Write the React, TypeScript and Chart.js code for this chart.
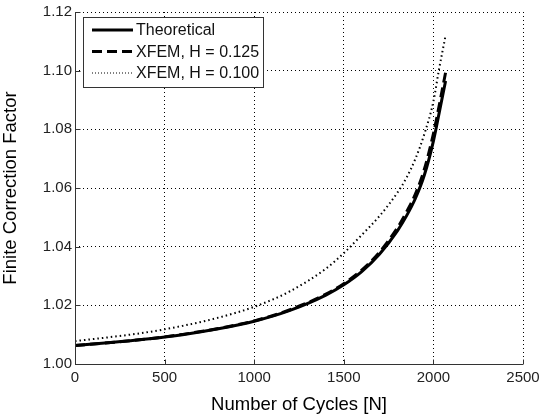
import React, { useEffect, useRef } from "react";
import { Chart, registerables } from "chart.js";

Chart.register(...registerables);

// Number of cycles [N] and finite correction factor values
const theoN = [0, 200, 400, 600, 800, 1000, 1200, 1400, 1500, 1600, 1700, 1800, 1850, 1900, 1950, 2000, 2040, 2068];
const theoF = [1.0063, 1.0073, 1.0085, 1.01, 1.012, 1.0146, 1.0183, 1.0235, 1.027, 1.0315, 1.0375, 1.0455, 1.0505, 1.0565, 1.0645, 1.076, 1.088, 1.0965];

const h125N = [0, 200, 400, 600, 800, 1000, 1200, 1400, 1500, 1600, 1700, 1800, 1850, 1900, 1950, 2000, 2040, 2070];
const h125F = [1.0063, 1.0073, 1.0085, 1.0101, 1.0121, 1.0147, 1.0185, 1.0238, 1.0274, 1.032, 1.0382, 1.0465, 1.0518, 1.058, 1.0665, 1.0785, 1.0905, 1.1];

const h100N = [0, 200, 400, 600, 800, 1000, 1200, 1400, 1500, 1600, 1700, 1800, 1850, 1900, 1950, 2000, 2030, 2068];
const h100F = [1.0078, 1.0092, 1.0108, 1.013, 1.0158, 1.0195, 1.0248, 1.0325, 1.0378, 1.044, 1.0505, 1.0585, 1.0635, 1.07, 1.0785, 1.0895, 1.1, 1.112];

const seriesLabels = ["Theoretical", "XFEM, H = 0.125", "XFEM, H = 0.100"];
const xTicks = [0, 500, 1000, 1500, 2000, 2500];
const yTicks = [1.0, 1.02, 1.04, 1.06, 1.08, 1.1, 1.12];

const FONT = "'Liberation Sans', Arial, sans-serif";

const toPts = (xs: number[], ys: number[]) => xs.map((x, i) => ({ x, y: ys[i] }));

const styles = [
  { width: 3, dash: [] as number[] },
  { width: 3, dash: [10, 5] },
  { width: 2, dash: [1.5, 3] },
];

const framePlugin = {
  id: "frame",
  afterDraw(chart: any) {
    const { ctx, chartArea: a, scales } = chart;
    ctx.save();
    ctx.strokeStyle = "#333";
    ctx.lineWidth = 1;
    ctx.setLineDash([]);
    const L = Math.round(a.left) + 0.5;
    const B = Math.round(a.bottom) + 0.5;
    ctx.beginPath();
    ctx.moveTo(L, a.top);
    ctx.lineTo(L, B);
    ctx.lineTo(a.right, B);
    // inward ticks on left and bottom
    xTicks.forEach((v) => {
      const px = Math.round(scales.x.getPixelForValue(v)) + 0.5;
      ctx.moveTo(px, B);
      ctx.lineTo(px, B - 5);
    });
    yTicks.forEach((v) => {
      const py = Math.round(scales.y.getPixelForValue(v)) + 0.5;
      ctx.moveTo(L, py);
      ctx.lineTo(L + 5, py);
    });
    ctx.stroke();

    // legend box
    const lx = 83;
    const ly = 17;
    const lw = 180;
    const lh = 70;
    ctx.fillStyle = "#fff";
    ctx.fillRect(lx, ly, lw, lh);
    ctx.strokeStyle = "#333";
    ctx.lineWidth = 1;
    ctx.strokeRect(lx + 0.5, ly + 0.5, lw, lh);
    ctx.font = `16px ${FONT}`;
    ctx.textBaseline = "middle";
    ctx.textAlign = "left";
    seriesLabels.forEach((lab, i) => {
      const yy = ly + 13 + i * 21.5;
      ctx.beginPath();
      ctx.strokeStyle = "#000";
      ctx.lineWidth = styles[i].width;
      ctx.setLineDash(i === 2 ? [1, 2] : styles[i].dash);
      ctx.lineWidth = i === 2 ? 1 : styles[i].width;
      ctx.moveTo(lx + 9, yy);
      ctx.lineTo(lx + 50, yy);
      ctx.stroke();
      ctx.setLineDash([]);
      ctx.fillStyle = "#111";
      ctx.fillText(lab, lx + 53, yy + 1);
    });
    ctx.restore();
  },
};

export default function App() {
  const ref = useRef<HTMLCanvasElement | null>(null);
  useEffect(() => {
    document.body.style.margin = "0";
    const canvas = ref.current!;
    const data = [toPts(theoN, theoF), toPts(h125N, h125F), toPts(h100N, h100F)];
    const chart = new Chart(canvas, {
      type: "line",
      data: {
        datasets: data.map((d, i) => ({
          label: seriesLabels[i],
          data: d,
          borderColor: "#000",
          borderWidth: styles[i].width,
          borderDash: styles[i].dash,
          pointRadius: 0,
          fill: false,
          cubicInterpolationMode: "monotone" as const,
        })),
      },
      options: {
        animation: false,
        responsive: false,
        layout: { padding: { top: 9, right: 25, left: 0, bottom: 0 } },
        plugins: { legend: { display: false }, tooltip: { enabled: false } },
        scales: {
          x: {
            type: "linear",
            min: 0,
            max: 2500,
            afterBuildTicks: (s: any) => {
              s.ticks = xTicks.map((v) => ({ value: v }));
            },
            afterFit: (s: any) => {
              s.height = 52;
            },
            grid: { color: "#000", lineWidth: 1, drawTicks: false },
            border: { display: false, dash: [1, 3] },
            ticks: {
              color: "#222",
              font: { family: FONT, size: 15 },
              padding: 5,
              callback: (v: any) => String(v),
            },
            title: {
              display: true,
              text: "Number of Cycles [N]",
              color: "#000",
              font: { family: FONT, size: 18.5 },
              padding: { top: 1, bottom: 0 },
            },
          },
          y: {
            type: "linear",
            min: 1.0,
            max: 1.12,
            afterBuildTicks: (s: any) => {
              s.ticks = yTicks.map((v) => ({ value: v }));
            },
            afterFit: (s: any) => {
              s.width = 75;
            },
            grid: { color: "#000", lineWidth: 1, drawTicks: false },
            border: { display: false, dash: [1, 3] },
            ticks: {
              color: "#222",
              font: { family: FONT, size: 15 },
              padding: 3,
              callback: (v: any) => Number(v).toFixed(2),
            },
            title: {
              display: true,
              text: "Finite Correction Factor",
              color: "#000",
              font: { family: FONT, size: 18.5 },
              padding: { top: 0, bottom: 4 },
            },
          },
        },
      },
      plugins: [framePlugin],
    });
    return () => chart.destroy();
  }, []);
  return <canvas ref={ref} width={548} height={416} style={{ display: "block" }} />;
}
